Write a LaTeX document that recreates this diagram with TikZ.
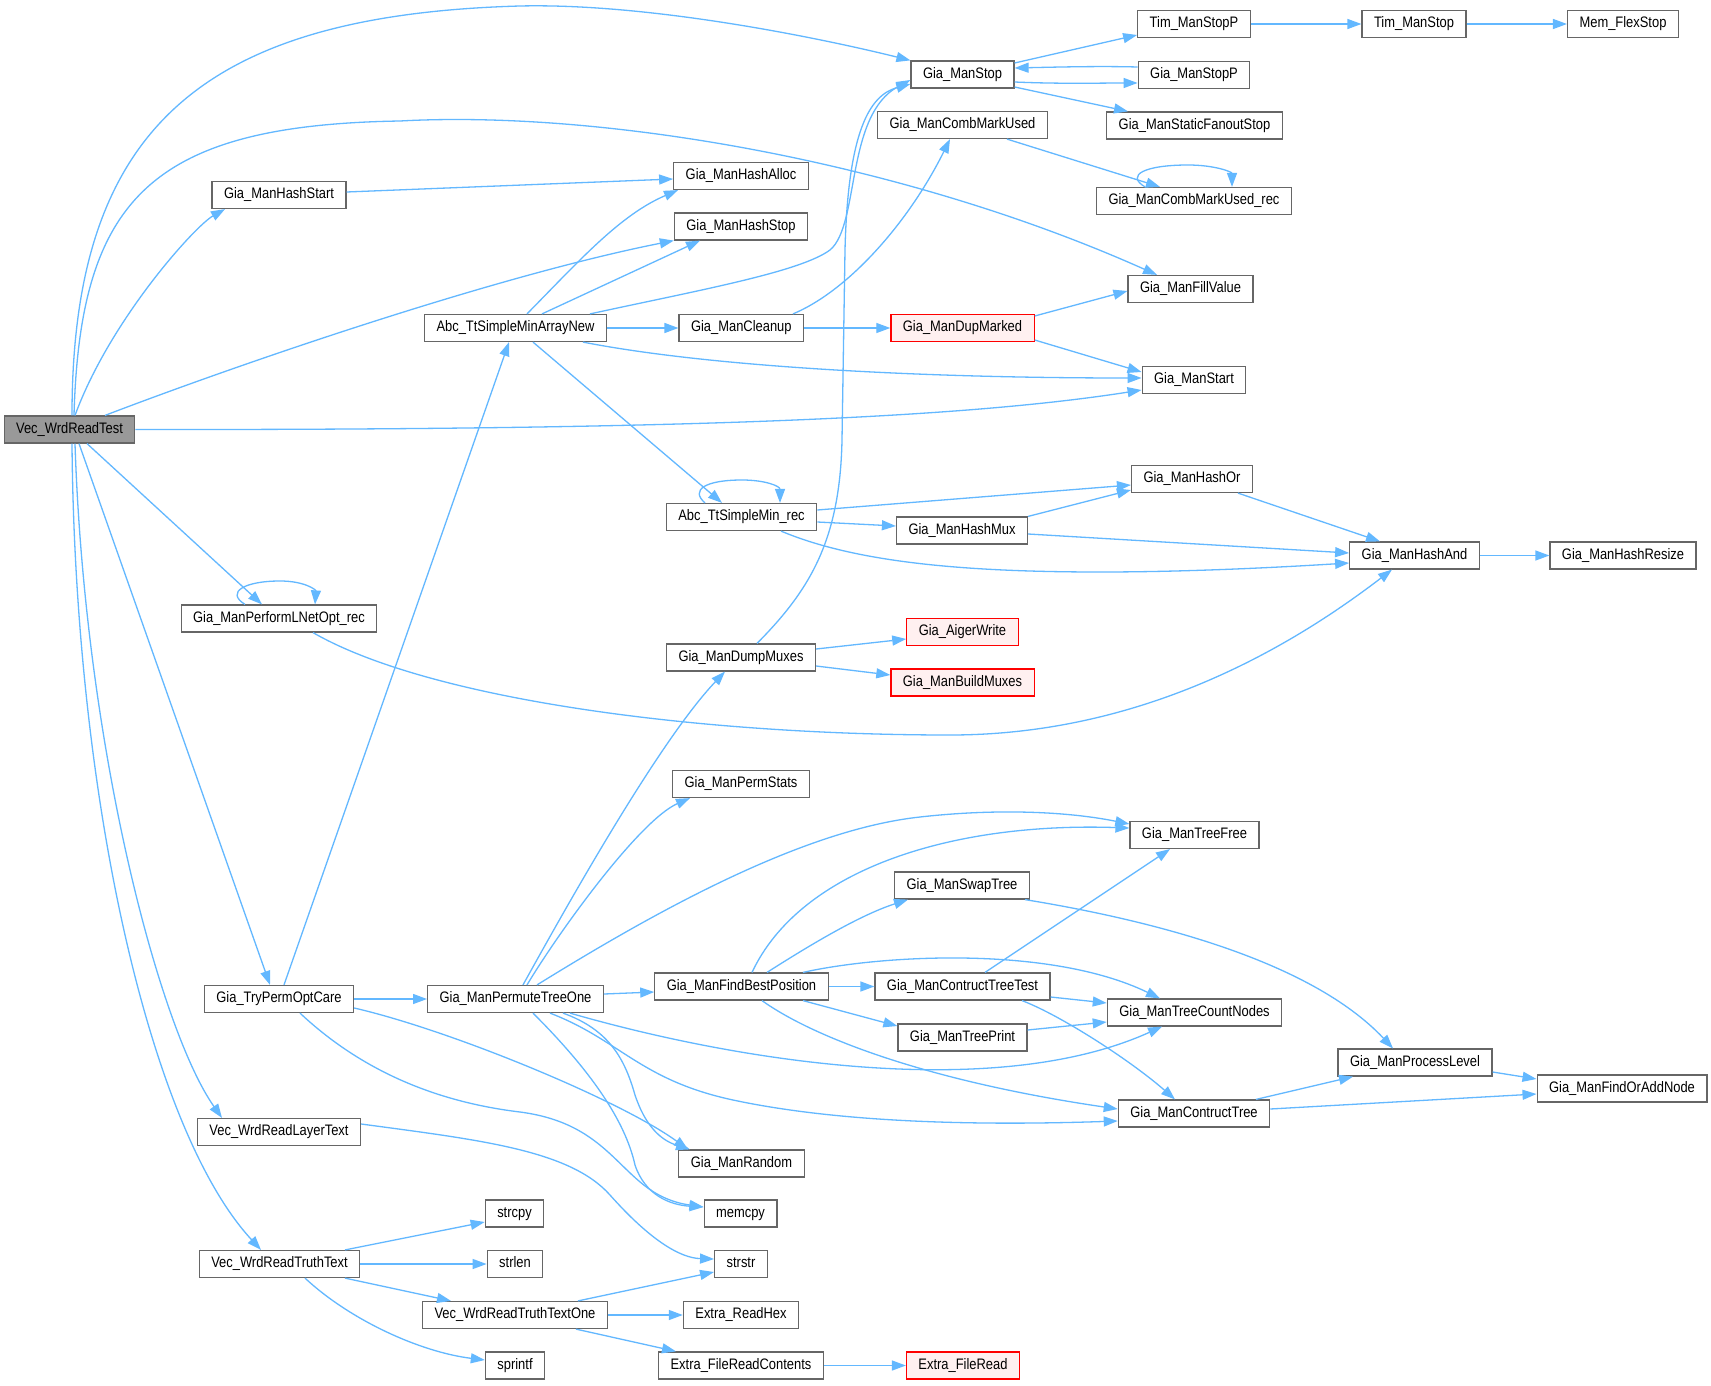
\documentclass[tikz,border=0pt]{standalone}
\usepackage{fontspec}
\setmainfont{Liberation Sans}[FakeStretch=0.85]
\usetikzlibrary{arrows.meta}
\definecolor{edgeblue}{HTML}{63B8FF}
\definecolor{boxgray}{HTML}{666666}
\definecolor{mainfill}{HTML}{999999}
\definecolor{redb}{HTML}{FF0000}
\definecolor{redfill}{HTML}{FFF0F0}
\begin{document}
\begin{tikzpicture}[x=1pt,y=-1pt,
  box/.style={draw=boxgray, fill=white, line width=1.2pt, minimum height=27pt, inner xsep=12pt, inner ysep=0pt, text height=11pt, text depth=3.2pt, font=\fontsize{15.2pt}{17pt}\selectfont},
  mainbox/.style={box, fill=mainfill},
  redbox/.style={box, draw=redb, fill=redfill},
  e/.style={draw=edgeblue, line width=1.3pt, -{Triangle[length=14pt,width=10pt]}}]
\fill[white] (0,0) rectangle (1711,1386);
\useasboundingbox (0,0) rectangle (1711,1386);
% nodes
\node[mainbox] (vwrt) at (69.5,429.5) {Vec\_WrdReadTest};
\node[box] (stop) at (962.5,74.5) {Gia\_ManStop};
\node[box] (timstopp) at (1194,24) {Tim\_ManStopP};
\node[box] (timstop) at (1414,24) {Tim\_ManStop};
\node[box] (flexstop) at (1623,24) {Mem\_FlexStop};
\node[box] (stopp) at (1194,75) {Gia\_ManStopP};
\node[box] (sfstop) at (1194.5,125.5) {Gia\_ManStaticFanoutStop};
\node[box] (cmu) at (962.5,125) {Gia\_ManCombMarkUsed};
\node[box] (cmurec) at (1194,201) {Gia\_ManCombMarkUsed\_rec};
\node[box] (hstart) at (279,195) {Gia\_ManHashStart};
\node[box] (halloc) at (741,176) {Gia\_ManHashAlloc};
\node[box] (hstop) at (741,226.5) {Gia\_ManHashStop};
\node[box] (fill) at (1190.5,289) {Gia\_ManFillValue};
\node[box] (arrnew) at (515.5,328) {Abc\_TtSimpleMinArrayNew};
\node[box] (cleanup) at (741.3,328) {Gia\_ManCleanup};
\node[redbox] (dup) at (962.5,328) {Gia\_ManDupMarked};
\node[box] (mstart) at (1194,380) {Gia\_ManStart};
\node[box] (minrec) at (741.5,517) {Abc\_TtSimpleMin\_rec};
\node[box] (hor) at (1192,479) {Gia\_ManHashOr};
\node[box] (hmux) at (962,530.5) {Gia\_ManHashMux};
\node[box] (hand) at (1414.5,555.5) {Gia\_ManHashAnd};
\node[box] (hresize) at (1623,555.5) {Gia\_ManHashResize};
\node[box] (lnet) at (279,618.5) {Gia\_ManPerformLNetOpt\_rec};
\node[box] (dump) at (741,657.5) {Gia\_ManDumpMuxes};
\node[redbox] (aiger) at (962.5,632) {Gia\_AigerWrite};
\node[redbox] (bmux) at (962.5,682.5) {Gia\_ManBuildMuxes};
\node[box] (pstats) at (741,784) {Gia\_ManPermStats};
\node[box] (tfree) at (1194.5,835) {Gia\_ManTreeFree};
\node[box] (swap) at (962,885.5) {Gia\_ManSwapTree};
\node[box] (tpoc) at (279,999) {Gia\_TryPermOptCare};
\node[box] (pto) at (515.5,999) {Gia\_ManPermuteTreeOne};
\node[box] (fbp) at (741.5,986.5) {Gia\_ManFindBestPosition};
\node[box] (cttest) at (962.5,986.5) {Gia\_ManContructTreeTest};
\node[box] (tcount) at (1194.5,1012.5) {Gia\_ManTreeCountNodes};
\node[box] (tprint) at (962.5,1037.5) {Gia\_ManTreePrint};
\node[box] (plevel) at (1415,1062.5) {Gia\_ManProcessLevel};
\node[box] (foan) at (1622,1088.5) {Gia\_ManFindOrAddNode};
\node[box] (ctree) at (1194,1113.5) {Gia\_ManContructTree};
\node[box] (layer) at (279,1132) {Vec\_WrdReadLayerText};
\node[box] (rnd) at (741.5,1163.5) {Gia\_ManRandom};
\node[box] (memcpy) at (740.5,1213.5) {memcpy};
\node[box] (strcpy) at (514.5,1213.5) {strcpy};
\node[box] (strstr) at (741,1264) {strstr};
\node[box] (truth) at (279.5,1264) {Vec\_WrdReadTruthText};
\node[box] (strlen) at (515,1264) {strlen};
\node[box] (truthone) at (515,1315) {Vec\_WrdReadTruthTextOne};
\node[box] (rhex) at (741,1315) {Extra\_ReadHex};
\node[box] (sprintf) at (515,1365.5) {sprintf};
\node[box] (frc) at (741,1365.5) {Extra\_FileReadContents};
\node[redbox] (fread) at (963,1365.5) {Extra\_FileRead};
% edges from Vec_WrdReadTest
\draw[e] (vwrt.north -| 72,0) .. controls (72,130) and (200,15) .. (520,6) .. controls (650,3) and (820,38) .. (stop.north west);
\draw[e] (vwrt.north -| 74,0) .. controls (80,200) and (150,125) .. (400,121) .. controls (600,110) and (900,160) .. (fill.north -| 1157,0);
\draw[e] (vwrt.north -| 75,0) .. controls (110,320) and (195,226) .. (hstart.south -| 225,0);
\draw[e] (vwrt.north -| 105,0) .. controls (250,360) and (500,275) .. (hstop.south west);
\draw[e] (vwrt.east) .. controls (650,430) and (950,420) .. (mstart.west |- 0,390);
\draw[e] (vwrt.south -| 87,0) -- (lnet.north -| 262,0);
\draw[e] (vwrt.south -| 79,0) -- (tpoc.north -| 270,0);
\draw[e] (vwrt.south -| 75,0) .. controls (85,750) and (160,1030) .. (layer.north -| 222,0);
\draw[e] (vwrt.south -| 72,0) .. controls (75,800) and (150,1130) .. (truth.north -| 261,0);
% top area
\draw[e] (hstart.east |- 0,192) -- (halloc.west |- 0,179);
\draw[e] (stop.east |- 0,63) -- (timstopp.west |- 0,35);
\draw[e] (stop.east |- 0,82) .. controls (1060,84) and (1100,83) .. (stopp.west |- 0,83);
\draw[e] (stopp.west |- 0,67) .. controls (1100,66) and (1060,67) .. (stop.east |- 0,68);
\draw[e] (stop.east |- 0,87) -- (sfstop.north -| 1128,0);
\draw[e] (timstopp) -- (timstop);
\draw[e] (timstop) -- (flexstop);
\draw[e] (cmu.south -| 1007,0) -- (cmurec.north -| 1160,0);
\draw[e] (cmurec.north -| 1145,0) .. controls (1125,175) and (1145,165) .. (1188,165) .. controls (1215,165) and (1232,172) .. (cmurec.north -| 1232,0);
\draw[e] (arrnew.north -| 527,0) .. controls (580,260) and (620,215) .. (halloc.south -| 678,0);
\draw[e] (arrnew.north -| 542,0) -- (hstop.south -| 700,0);
\draw[e] (arrnew.north -| 590,0) .. controls (700,290) and (800,272) .. (830,250) .. controls (860,225) and (845,115) .. (stop.west |- 0,80);
\draw[e] (dump.north -| 757,0) .. controls (810,590) and (840,540) .. (842,440) -- (845,250) .. controls (848,130) and (870,95) .. (stop.west |- 0,84);
\draw[e] (arrnew) -- (cleanup);
\draw[e] (arrnew.south -| 583,0) .. controls (700,365) and (900,378) .. (mstart.west |- 0,378);
\draw[e] (arrnew.south -| 533,0) -- (minrec.north -| 722,0);
\draw[e] (cleanup.north -| 793,0) .. controls (850,290) and (910,220) .. (cmu.south -| 950,0);
\draw[e] (cleanup) -- (dup);
\draw[e] (dup.east |- 0,316) -- (fill.west |- 0,291);
\draw[e] (dup.east |- 0,340) -- (mstart.west |- 0,372);
% middle
\draw[e] (minrec.north -| 705,0) .. controls (690,490) and (705,480) .. (742,480) .. controls (765,480) and (780,486) .. (minrec.north -| 780,0);
\draw[e] (minrec.east |- 0,510) -- (hor.west |- 0,485);
\draw[e] (minrec.east |- 0,522) -- (hmux.west |- 0,526);
\draw[e] (minrec.south -| 781,0) .. controls (850,560) and (950,572) .. (1100,572) .. controls (1200,572) and (1300,566) .. (hand.west |- 0,563);
\draw[e] (hmux.north east) -- (hor.west |- 0,490);
\draw[e] (hmux.east |- 0,534) -- (hand.west |- 0,553);
\draw[e] (hor.south -| 1238,0) -- (hand.north -| 1380,0);
\draw[e] (hand) -- (hresize);
\draw[e] (lnet.north -| 245,0) .. controls (225,592) and (245,581) .. (280,581) .. controls (305,581) and (316,590) .. (lnet.north -| 315,0);
\draw[e] (lnet.south -| 313,0) .. controls (430,700) and (700,735) .. (950,735) .. controls (1150,735) and (1300,640) .. (hand.south -| 1392,0);
\draw[e] (dump.east |- 0,649) -- (aiger.west |- 0,639);
\draw[e] (dump.east |- 0,666) -- (bmux.west |- 0,675);
% lower area
\draw[e] (tpoc.north -| 284,0) -- (arrnew.south -| 509,0);
\draw[e] (tpoc) -- (pto);
\draw[e] (tpoc.east |- 0,1008) .. controls (450,1030) and (620,1100) .. (rnd.north -| 688,0);
\draw[e] (tpoc.south -| 300,0) .. controls (350,1060) and (420,1100) .. (520,1112) .. controls (620,1125) and (620,1195) .. (memcpy.west |- 0,1207);
\draw[e] (layer.east |- 0,1124) .. controls (480,1140) and (570,1150) .. (610,1195) .. controls (650,1240) and (680,1258) .. (strstr.west |- 0,1259);
\draw[e] (pto.north -| 523,0) .. controls (570,900) and (660,740) .. (dump.south -| 725,0);
\draw[e] (pto.north -| 527,0) .. controls (560,930) and (640,820) .. (pstats.south -| 690,0);
\draw[e] (pto.north -| 537,0) .. controls (650,915) and (800,830) .. (920,817) .. controls (1000,808) and (1070,812) .. (tfree.west |- 0,824);
\draw[e] (pto.east |- 0,994) -- (fbp.west |- 0,992);
\draw[e] (pto.south -| 570,0) .. controls (750,1065) and (1000,1100) .. (tcount.south -| 1162,0);
\draw[e] (pto.south -| 550,0) .. controls (620,1040) and (640,1080) .. (733,1100) .. controls (850,1125) and (1000,1125) .. (ctree.west |- 0,1121);
\draw[e] (pto.south -| 563,0) .. controls (610,1030) and (625,1060) .. (635,1095) .. controls (645,1125) and (660,1140) .. (rnd.north -| 690,0);
\draw[e] (pto.south -| 533,0) .. controls (590,1070) and (625,1120) .. (635,1165) .. controls (645,1195) and (670,1205) .. (memcpy.west |- 0,1207);
\draw[e] (fbp.north -| 752,0) .. controls (800,870) and (950,822) .. (tfree.west |- 0,828);
\draw[e] (fbp.north -| 767,0) .. controls (810,945) and (860,915) .. (swap.south -| 908,0);
\draw[e] (fbp.north -| 803,0) .. controls (880,955) and (1050,945) .. (tcount.north -| 1160,0);
\draw[e] (fbp) -- (cttest);
\draw[e] (fbp.south -| 803,0) -- (tprint.west |- 0,1026);
\draw[e] (fbp.south -| 762,0) .. controls (810,1035) and (920,1080) .. (ctree.west |- 0,1109);
\draw[e] (cttest.north -| 985,0) -- (tfree.south -| 1170,0);
\draw[e] (cttest.east |- 0,997) -- (tcount.west |- 0,1003);
\draw[e] (cttest.south -| 1022,0) .. controls (1060,1015) and (1130,1060) .. (ctree.north -| 1175,0);
\draw[e] (tprint.east |- 0,1030) -- (tcount.west |- 0,1022);
\draw[e] (swap.south -| 1025,0) .. controls (1150,920) and (1310,960) .. (plevel.north -| 1393,0);
\draw[e] (ctree.north -| 1256,0) -- (plevel.south -| 1353,0);
\draw[e] (ctree.east |- 0,1109) -- (foan.west |- 0,1094);
\draw[e] (plevel.east |- 0,1072) -- (foan.west |- 0,1079);
% bottom
\draw[e] (truth.north -| 345,0) -- (strcpy.west |- 0,1222);
\draw[e] (truth) -- (strlen);
\draw[e] (truth.south -| 345,0) -- (truthone.north -| 451,0);
\draw[e] (truth.south -| 305,0) .. controls (350,1320) and (420,1352) .. (sprintf.west |- 0,1360);
\draw[e] (truthone.north -| 578,0) -- (strstr.west |- 0,1272);
\draw[e] (truthone) -- (rhex);
\draw[e] (truthone.south -| 576,0) -- (frc.north -| 676,0);
\draw[e] (frc) -- (fread);
\end{tikzpicture}
\end{document}
